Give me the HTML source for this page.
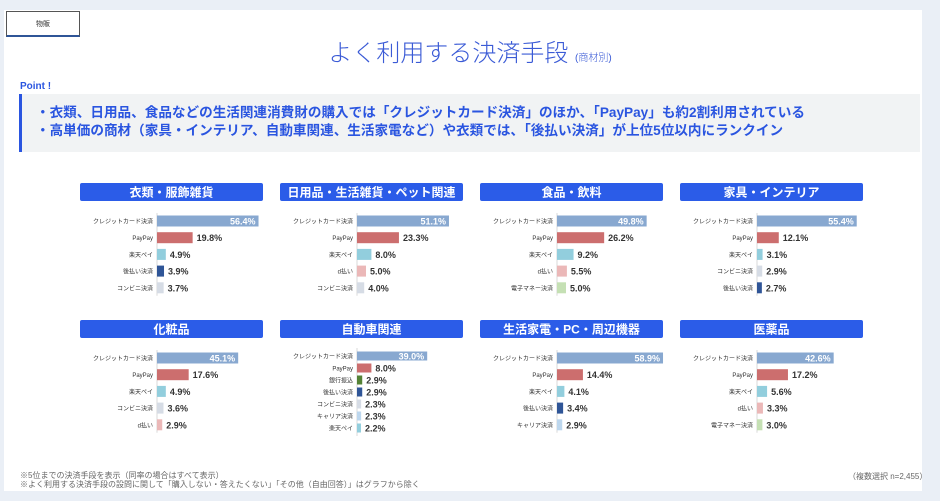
<!DOCTYPE html>
<html><head><meta charset="utf-8">
<style>
body{margin:0;width:940px;height:501px;background:#eaeff6;font-family:"Liberation Sans","Noto Sans CJK JP",sans-serif;overflow:hidden;position:relative}
#sheet{position:absolute;left:4px;top:10px;width:918px;height:481px;background:#fff}
#tag{position:absolute;left:6px;top:11px;width:74px;height:26px;border:1px solid #555;border-bottom:2px solid #2f5597;font-size:7px;color:#333;text-align:center;line-height:26px;box-sizing:border-box;background:#fff}
#title{position:absolute;left:0;width:940px;top:33px;text-align:center;font-size:24px;color:#3b5bd6;font-weight:300}
#title small{font-size:10px}
#point{position:absolute;left:20px;top:81px;font-size:10px;font-weight:bold;color:#2a55e0}
#pbox{position:absolute;left:19px;top:94px;width:901px;height:58px;background:#f1f3f4;border-left:3px solid #2a55e0;box-sizing:border-box;padding:10px 0 0 14px;font-size:13.6px;font-weight:bold;color:#2a55e0;line-height:18px;white-space:nowrap}
.note{position:absolute;font-size:8px;color:#666}
svg{position:absolute;left:0;top:0}
</style></head><body>
<div id="sheet"></div>
<div id="tag">物販</div>
<div id="title">よく利用する決済手段 <small>(商材別)</small></div>
<div id="point">Point !</div>
<div id="pbox">・衣類、日用品、食品などの生活関連消費財の購入では「クレジットカード決済」のほか、「PayPay」も約2割利用されている<br>・高単価の商材（家具・インテリア、自動車関連、生活家電など）や衣類では、「後払い決済」が上位5位以内にランクイン</div>
<div class="note" style="left:20px;top:471px;line-height:9px">※5位までの決済手段を表示（同率の場合はすべて表示）<br>※よく利用する決済手段の設問に関して「購入しない・答えたくない」「その他（自由回答）」はグラフから除く</div>
<div class="note" style="left:848px;top:471px">（複数選択 n=2,455）</div>
<svg id="chart" width="940" height="501"></svg>
<script>
const titles=["衣類・服飾雑貨","日用品・生活雑貨・ペット関連","食品・飲料","家具・インテリア","化粧品","自動車関連","生活家電・PC・周辺機器","医薬品"];
const cats=[
["クレジットカード決済","PayPay","楽天ペイ","後払い決済","コンビニ決済"],
["クレジットカード決済","PayPay","楽天ペイ","d払い","コンビニ決済"],
["クレジットカード決済","PayPay","楽天ペイ","d払い","電子マネー決済"],
["クレジットカード決済","PayPay","楽天ペイ","コンビニ決済","後払い決済"],
["クレジットカード決済","PayPay","楽天ペイ","コンビニ決済","d払い"],
["クレジットカード決済","PayPay","銀行振込","後払い決済","コンビニ決済","キャリア決済","楽天ペイ"],
["クレジットカード決済","PayPay","楽天ペイ","後払い決済","キャリア決済"],
["クレジットカード決済","PayPay","楽天ペイ","d払い","電子マネー決済"]];
const vals=[
[56.4,19.8,4.9,3.9,3.7],
[51.1,23.3,8.0,5.0,4.0],
[49.8,26.2,9.2,5.5,5.0],
[55.4,12.1,3.1,2.9,2.7],
[45.1,17.6,4.9,3.6,2.9],
[39.0,8.0,2.9,2.9,2.3,2.3,2.2],
[58.9,14.4,4.1,3.4,2.9],
[42.6,17.2,5.6,3.3,3.0]];
const colors={"クレジットカード決済":"#88a8d0","PayPay":"#cc6e6e","楽天ペイ":"#92cedd","後払い決済":"#2f5597","コンビニ決済":"#d6dce5","d払い":"#ebb8b8","電子マネー決済":"#c5e0b4","銀行振込":"#548235","キャリア決済":"#bdd7ee"};
const svg=document.getElementById('chart');const NS="http://www.w3.org/2000/svg";
function mk(t,a,txt){const e=document.createElementNS(NS,t);for(const k in a)e.setAttribute(k,a[k]);if(txt!==undefined)e.textContent=txt;svg.appendChild(e);return e;}
const xs=[80,280,480,680],hy=[183,320],scale=1.8;
function xPos(px,v){return px+77+v*scale;}
titles.forEach((t,i)=>{
 const px=xs[i%4],top=hy[Math.floor(i/4)];
 const h=mk('rect',{x:px,y:top,width:183,height:18,rx:2,fill:"#2b5ce8"});
 
 
 const tt=mk('text',{x:px+91.5,y:top+13.5,'text-anchor':'middle','font-size':12,'font-weight':'bold',fill:'#fff'},t);
 
 
 const n=cats[i].length,step=n>5?12:16.7,y0=top+(n>5?36:38);
 const ax=mk('line',{x1:px+77,x2:px+77,y1:y0-8,y2:y0+step*(n-1)+8,stroke:'#d9d9d9','stroke-width':1});
 
 
 const bh=n>5?9:11;
 cats[i].forEach((c,j)=>{
  const cy=y0+j*step,v=vals[i][j];
  const lb=mk('text',{x:px+73,y:cy+2.5,'text-anchor':'end','font-size':6,fill:'#333'},c);
  
  
  const b=mk('rect',{x:px+77,y:cy-bh/2,width:xPos(px,v)-px-77,height:bh,fill:colors[c]});
  
  
  const inside=v>30;
  const vl=mk('text',{x:inside?xPos(px,v)-3:xPos(px,v)+4,y:cy+3.5,'text-anchor':inside?'end':'start','font-size':9,'font-weight':'bold',fill:inside?'#fff':'#333'},v.toFixed(1)+'%');
  
  
 });
});
</script>
</body></html>
